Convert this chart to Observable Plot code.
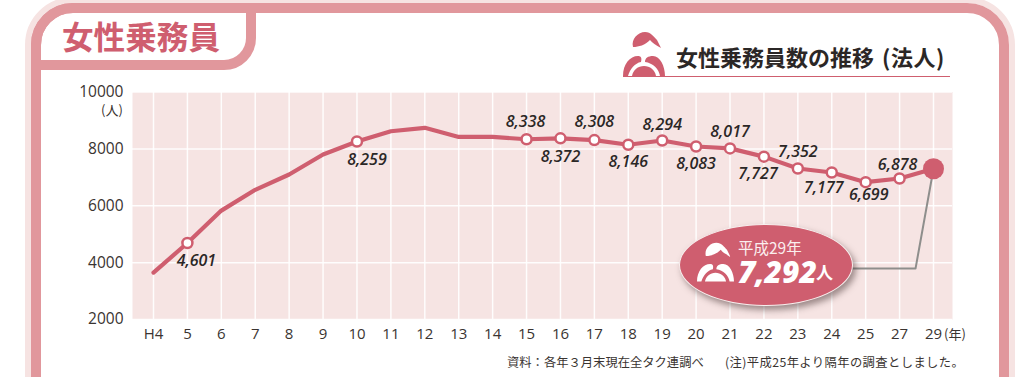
<!DOCTYPE html>
<html lang="ja"><head><meta charset="utf-8">
<script src="https://cdn.jsdelivr.net/npm/d3@7"></script>
<script src="https://cdn.jsdelivr.net/npm/@observablehq/plot@0.6"></script>
<style>
html,body{margin:0;padding:0;background:#fff;overflow:hidden}
#page{position:relative;width:1024px;height:377px;overflow:hidden;font-family:"Noto Sans CJK JP",sans-serif;color:#3a3431}
#page>*{position:absolute}
#chart{left:0;top:0}
.pale{left:25px;top:-3px;width:990px;height:460px;box-sizing:border-box;border:6px solid #f6e3e2;border-radius:48px}
.band{left:31px;top:3px;width:978px;height:440px;box-sizing:border-box;border:10px solid #e1979c;border-radius:42px}
.tab{left:31px;top:3px;width:225px;height:67px;box-sizing:border-box;border:10px solid #e1979c;border-radius:42px 0 32px 0}
.ttl{left:62px;top:13px;font-size:31.6px;line-height:44px;font-weight:700;color:#cf5e6f;white-space:nowrap}
.sub{left:676px;top:40px;font-size:22px;line-height:32px;font-weight:700;color:#2b2726;white-space:nowrap;word-spacing:3px}
.sub span{letter-spacing:.6px}
.rule{left:623px;top:75.5px;width:327px;height:1.5px;background:#cf5e6f}
.oval{left:679px;top:224px;width:174px;height:82px;border-radius:50%;background:#cf5e6f;border:1.5px solid #f8efee;box-sizing:border-box;box-shadow:3px 4px 6px rgba(70,50,50,.5)}
.o1{left:738px;top:238px;font-size:15.5px;line-height:19px;color:#fbeeee;white-space:nowrap}
.o2{left:738px;top:257px;font-family:"Open Sans",sans-serif;font-weight:800;font-style:italic;font-size:30px;line-height:29px;color:#fff;white-space:nowrap}
.o3{left:816px;top:260px;font-size:17px;line-height:24px;font-weight:700;color:#fff}
.unitY{left:101px;top:101px;font-size:13px;line-height:18px;white-space:nowrap}
.unitX{left:944px;top:324px;font-size:13px;line-height:20px;white-space:nowrap}
.note{top:353px;font-size:12.3px;line-height:18px;white-space:nowrap;color:#3a3431}
.n2{left:725px;letter-spacing:.4px}
</style></head><body>
<div id="page">
<div id="chart"></div>
<div class="pale"></div><div class="band"></div><div class="tab"></div>
<div class="ttl">女性乗務員</div>
<div class="sub">女性乗務員数の推移 <span>(法人)</span></div>
<div class="rule"></div>
<svg style="left:623px;top:31px" width="42" height="45" viewBox="0 0 42 45"><g fill="#cf5e6f">
<path d="M10 16C8 8 15 1 22 1C28 1 31 6 34 9L38 17C33 14 29 12 27 9C22 14 16 16 10 16z"/>
<path d="M0 45C0 33 7 25 15 25c3 0 4 2 3 6C12 32 7 38 5 45z"/>
<path d="M22 31c0-4 3-6 8-6c7 0 12 10 12 20h-5C36 38 30 32 22 31z"/>
<path d="M9 45C10 39 15 35 21 35s11 4 12 10z"/></g></svg>
<div class="oval"></div>
<svg style="left:697px;top:240px" width="37" height="43.5" viewBox="0 0 42 45"><g fill="#fff">
<path d="M10 16C8 8 15 1 22 1C28 1 31 6 34 9L38 17C33 14 29 12 27 9C22 14 16 16 10 16z"/>
<path d="M0 45C0 33 7 25 15 25c3 0 4 2 3 6C12 32 7 38 5 45z"/>
<path d="M22 31c0-4 3-6 8-6c7 0 12 10 12 20h-5C36 38 30 32 22 31z"/>
<path d="M9 45C10 39 15 35 21 35s11 4 12 10z"/></g></svg>
<div class="o1">平成29年</div><div class="o2">7,292</div><div class="o3">人</div>
<div class="unitY">(人)</div><div class="unitX">(年)</div>
<div class="note" style="left:507px">資料：各年３月末現在全タク連調べ</div>
<div class="note n2">(注)平成25年より隔年の調査としました。</div>
</div>
<script>
const years = ["H4","5","6","7","8","9","10","11","12","13","14","15","16","17","18","19","20","21","22","23","24","25","27","29"];
const drivers = [3650,4690,5830,6560,7100,7800,8259,8620,8740,8420,8420,8338,8372,8308,8146,8294,8083,8017,7727,7310,7170,6830,6958,7300];
const labelled = ["5","10","15","16","17","18","19","20","21","22","23","24","25","27"];
const labelTexts = ["4,601","8,259","8,338","8,372","8,308","8,146","8,294","8,083","8,017","7,727","7,352","7,177","6,699","6,878"];
const highlightYear = "29";
const yTicks = [2000,4000,6000,8000,10000];
const leaderX = [23,22.47,20.55];
const leaderY = [7300,3790,3790];

const ink="#cf5e6f";
const idx=y=>years.indexOf(y);
const rows=years.map((y,i)=>({i,v:drivers[i]}));
const marked=labelled.map(y=>rows[idx(y)]);
// label offsets from each marker, in the same order as labelled
const off=[[9,18],[10,18],[-1,-17],[0,19],[0,-18],[0,17],[0,-16],[0,17],[0,-17],[-6,17],[0,-17],[-8,15],[3,13],[-2,-14]];
const labelMarks=marked.map((d,k)=>Plot.text([d],{x:"i",y:"v",text:()=>labelTexts[k],dx:off[k][0],dy:off[k][1],
  fill:"#2b2726",fontSize:16,fontStyle:"italic",fontWeight:600,fontFamily:"Open Sans, sans-serif"}));

const chart=Plot.plot({
  width:1024,height:377,marginLeft:132,marginRight:72,marginTop:91.5,marginBottom:58,
  style:{background:"transparent",fontFamily:"Open Sans, sans-serif"},
  x:{type:"linear",domain:[0,years.length-1],range:[153,933]},
  y:{domain:[2000,10000],range:[319,91.5]},
  marks:[
    Plot.frame({fill:"#f6e4e3",stroke:null}),
    Plot.gridX(d3.range(years.length),{stroke:"#fff",strokeOpacity:.9,strokeWidth:1.5}),
    Plot.gridY(yTicks,{stroke:"#fff",strokeOpacity:.9,strokeWidth:1.5}),
    Plot.axisX(d3.range(years.length),{tickSize:0,tickPadding:9,label:null,tickFormat:i=>years[i],fontSize:15,fill:"#3a3431"}),
    Plot.axisY(yTicks,{tickSize:0,tickPadding:9,label:null,tickFormat:"d",fontSize:15.5,fill:"#3a3431"}),
    Plot.line(leaderX.map((x,k)=>({x,y:leaderY[k]})),{x:"x",y:"y",stroke:"#8e8e8c",strokeWidth:2,curve:"linear"}),
    Plot.line(rows,{x:"i",y:"v",stroke:ink,strokeWidth:4.2,strokeLinecap:"round",strokeLinejoin:"round"}),
    Plot.dot(marked,{x:"i",y:"v",r:5,fill:"#fff",stroke:ink,strokeWidth:2.5}),
    Plot.dot([rows[idx(highlightYear)]],{x:"i",y:"v",r:10.5,fill:ink}),
    ...labelMarks
  ]
});
document.getElementById("chart").appendChild(chart);
</script>
</body></html>
